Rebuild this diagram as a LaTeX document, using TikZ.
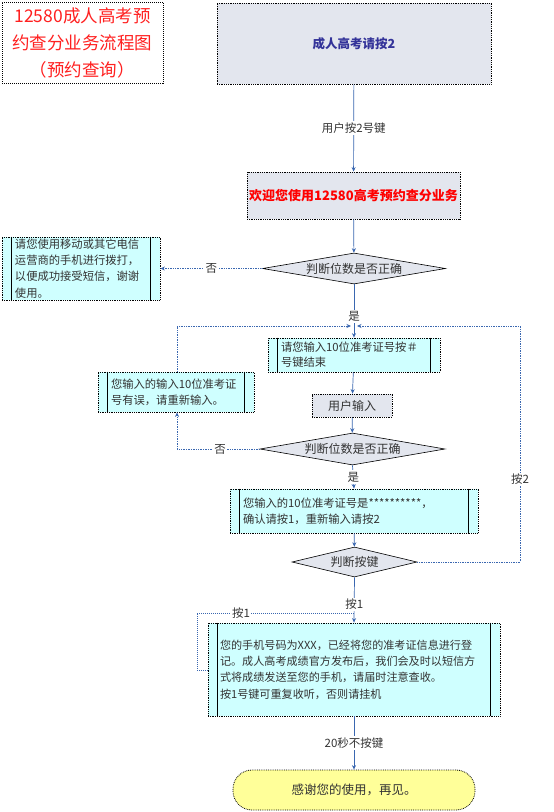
\documentclass[tikz,border=0pt]{standalone}
\usepackage{fontspec}
\setmainfont{Noto Sans CJK SC}
\usetikzlibrary{shapes.geometric,arrows.meta,calc}
\definecolor{lineblue}{HTML}{3A67B0}
\definecolor{cyanfill}{HTML}{CFFFFF}
\definecolor{grayfill}{HTML}{E3E6EE}
\definecolor{yellowfill}{HTML}{FFFF99}
\definecolor{textgray}{HTML}{333333}
\definecolor{titlered}{HTML}{FF2020}
\definecolor{topblue}{HTML}{333399}
\begin{document}
\begin{tikzpicture}[x=1pt,y=-1pt,
  box/.style={draw=black, densely dotted, line width=0.8pt, inner sep=0pt, anchor=center, text=textgray},
  cyanbox/.style={box, fill=cyanfill},
  graybox/.style={box, fill=grayfill},
  dec/.style={diamond, draw=black, line width=0.6pt, fill=grayfill, shape aspect=6, inner sep=0pt, text=textgray, font=\fontsize{12}{14}\selectfont},
  flow/.style={draw=lineblue, line width=0.7pt, -{Stealth[length=4.5pt,width=4pt]}},
  side/.style={flow, densely dotted, line width=1pt},
  plain/.style={draw=lineblue, densely dotted, line width=1pt},
  lbl/.style={fill=white, inner sep=1.5pt, text=textgray, font=\fontsize{11.5}{13}\selectfont},
  body/.style={font=\fontsize{11.3}{16.3}\selectfont, align=left}
]
\useasboundingbox (0,0) rectangle (554,812);
\fill[white] (0,0) rectangle (554,812);

% title
\node[box, line width=1pt, minimum width=161pt, minimum height=81pt, text=titlered,
  align=center, font=\fontsize{17.5}{27}\selectfont] (title) at (82.5,42.5)
  {12580成人高考预\\约查分业务流程图\\（预约查询）};

% top box
\node[graybox, minimum width=274pt, minimum height=81pt, text=topblue,
  font=\fontsize{12.5}{14}\selectfont\bfseries] (b0) at (354,43.5) {成人高考请按2};

% welcome
\node[graybox, minimum width=213pt, minimum height=47pt, text=red,
  font=\fontsize{13}{15}\selectfont\bfseries] (b1) at (353.5,195.5) {欢迎您使用12580高考预约查分业务};

% decision 1
\node[dec, minimum width=183pt, minimum height=31pt] (d1) at (354,268.5) {判断位数是否正确};

% left box 1
\node[cyanbox, minimum width=158pt, minimum height=63pt] (p1) at (81,268.5)
  {\parbox{132pt}{\fontsize{11.3}{16.3}\selectfont 请您使用移动或其它电信\\运营商的手机进行拨打，\\以便成功接受短信，谢谢\\使用。}};

% input prompt
\node[cyanbox, minimum width=172pt, minimum height=34pt] (b2) at (354,355)
  {\parbox{146pt}{\fontsize{11.3}{15}\selectfont 请您输入10位准考证号按＃\\号键结束}};

% user input
\node[graybox, minimum width=80pt, minimum height=23pt, font=\fontsize{12}{14}\selectfont] (b3) at (352,405.5) {用户输入};

% decision 2
\node[dec, minimum width=185pt, minimum height=32pt] (d2) at (352.5,449) {判断位数是否正确};

% left box 2
\node[cyanbox, minimum width=156pt, minimum height=40pt] (p5) at (176,392)
  {\parbox{130pt}{\fontsize{11.3}{16.3}\selectfont 您输入的输入10位准考证\\号有误，请重新输入。}};

% confirm box
\node[cyanbox, minimum width=248pt, minimum height=44pt] (p3) at (354,511)
  {\parbox{222pt}{\fontsize{11.3}{16.3}\selectfont 您输入的10位准考证号是**********，\\确认请按1，重新输入请按2}};

% decision 3
\node[dec, minimum width=125pt, minimum height=30pt] (d3) at (354.5,562) {判断按键};

% result box
\node[cyanbox, minimum width=292pt, minimum height=93pt] (p4) at (354,669.5)
  {\parbox{268pt}{\fontsize{11.1}{16.3}\selectfont 您的手机号码为XXX，已经将您的准考证信息进行登\\记。成人高考成绩官方发布后，我们会及时以短信方\\式将成绩发送至您的手机，请届时注意查收。\\按1号键可重复收听，否则请挂机}};

% terminal
\node[box, fill=yellowfill, rounded corners=19pt, minimum width=242pt, minimum height=40pt,
  font=\fontsize{12.5}{14}\selectfont] (t) at (354,790) {感谢您的使用，再见。};

% process bars
\foreach \n in {p1,b2,p5,p3,p4}{
  \draw[black, line width=0.9pt] ([xshift=10pt]\n.north west) -- ([xshift=10pt]\n.south west);
  \draw[black, line width=0.9pt] ([xshift=-10pt]\n.north east) -- ([xshift=-10pt]\n.south east);
}

% coordinates
\coordinate (jc) at (354,326);
\coordinate (jl) at (177,326);
\coordinate (jr) at (520,326);
\coordinate (l2) at (177,449);
\coordinate (r3) at (520,562);
\coordinate (k1) at (354,613);
\coordinate (lb) at (197,670);
\coordinate (lt) at (197,613);

% connectors
\draw[flow] (b0) -- node[lbl] {用户按2号键} (b1);
\draw[flow] (b1) -- (d1);
\draw[side] (d1.west) -- node[lbl, pos=0.5] {否} (p1.east);
\draw[flow] (d1.south) -- node[lbl, pos=0.6] {是} (b2.north);
\draw[flow] (b2) -- (b3);
\draw[flow] (b3) -- (d2);
\draw[side] (d2.west) -- node[lbl, pos=0.48] {否} (l2) -- (p5.south -| l2);
\draw[side] (p5.north -| jl) -- (jl) -- ([xshift=-3pt]jc);
\draw[side] (d3.east) -- (r3) -- node[lbl, pos=0.35] {按2} (jr) -- ([xshift=3pt]jc);
\draw[flow] (d2.south) -- node[lbl, pos=0.5] {是} (p3.north);
\draw[flow] (p3) -- (d3);
\draw[flow] (d3.south) -- node[lbl, pos=0.6] {按1} (p4.north);
\draw[plain] (p4.west |- lb) -- (lb) -- (lt) -- node[lbl, pos=0.28] {按1} (k1);
\draw[flow] (p4) -- node[lbl] {20秒不按键} (t);
\end{tikzpicture}
\end{document}
